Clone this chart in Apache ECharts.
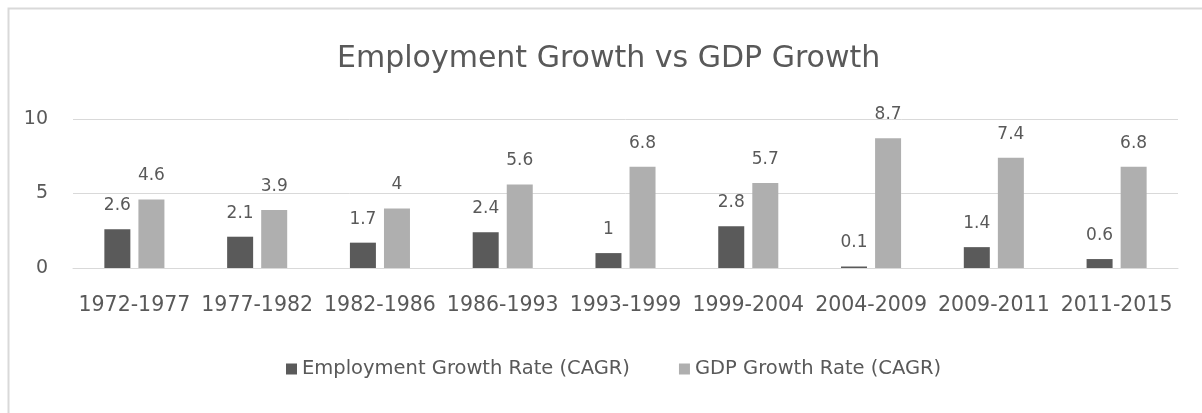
<!DOCTYPE html>
<html>
<head>
<meta charset="utf-8">
<title>Employment Growth vs GDP Growth</title>
<script src="https://cdn.jsdelivr.net/npm/echarts@6/dist/echarts.min.js"></script>
<style>
  html, body { margin: 0; padding: 0; background: #ffffff; }
  #chart { width: 1202px; height: 413px; }
</style>
</head>
<body>
<div id="chart"></div>
<script>
// Periods on the category axis
const periods = ['1972-1977', '1977-1982', '1982-1986', '1986-1993', '1993-1999',
                 '1999-2004', '2004-2009', '2009-2011', '2011-2015'];
// Compound annual growth rates (%) for each period
const employmentGrowth = [2.6, 2.1, 1.7, 2.4, 1, 2.8, 0.1, 1.4, 0.6];
const gdpGrowth = [4.6, 3.9, 4, 5.6, 6.8, 5.7, 8.7, 7.4, 6.8];
// Value axis ticks
const yTicks = [0, 5, 10];

const FONT = 'DejaVu Sans';
const TEXT = '#595959';
const GRID = '#d9d9d9';

const chart = echarts.init(document.getElementById('chart'), null, { renderer: 'canvas' });

chart.setOption({
  backgroundColor: '#ffffff',
  animation: false,
  graphic: [{
    type: 'rect',
    shape: { x: 8.5, y: 8.5, width: 1400, height: 600 },
    style: { fill: 'none', stroke: GRID, lineWidth: 2 },
    silent: true,
    z: 0
  }],
  title: {
    text: 'Employment Growth vs GDP Growth',
    left: 332,
    top: 39,
    textStyle: { fontFamily: FONT, fontSize: 30, fontWeight: 'normal', color: TEXT }
  },
  legend: {
    left: 281,
    top: 354,
    itemWidth: 11,
    itemHeight: 11,
    itemGap: 49,
    icon: 'rect',
    textStyle: { fontFamily: FONT, fontSize: 19.5, color: TEXT },
    data: ['Employment Growth Rate (CAGR)', 'GDP Growth Rate (CAGR)']
  },
  grid: { left: 73, right: 24, top: 119, bottom: 145 },
  xAxis: {
    type: 'category',
    data: periods,
    axisLine: { show: true, lineStyle: { color: GRID, width: 1 } },
    axisTick: { show: false },
    axisLabel: { fontFamily: FONT, fontSize: 20.5, color: TEXT, margin: 27, interval: 0 }
  },
  yAxis: {
    type: 'value',
    min: yTicks[0],
    max: yTicks[yTicks.length - 1],
    interval: yTicks[1] - yTicks[0],
    axisLine: { show: false },
    axisTick: { show: false },
    splitLine: { lineStyle: { color: GRID, width: 1 } },
    axisLabel: { fontFamily: FONT, fontSize: 19, color: TEXT, margin: 25 }
  },
  series: [
    {
      name: 'Employment Growth Rate (CAGR)',
      type: 'bar',
      data: employmentGrowth,
      barWidth: 26,
      barGap: '31%',
      itemStyle: { color: '#5a5a5a' },
      label: { show: true, position: 'top', distance: 15, fontFamily: FONT, fontSize: 17, color: TEXT }
    },
    {
      name: 'GDP Growth Rate (CAGR)',
      type: 'bar',
      data: gdpGrowth,
      barWidth: 26,
      barGap: '31%',
      itemStyle: { color: '#afafaf' },
      label: { show: true, position: 'top', distance: 15, fontFamily: FONT, fontSize: 17, color: TEXT }
    }
  ]
});
</script>
</body>
</html>
